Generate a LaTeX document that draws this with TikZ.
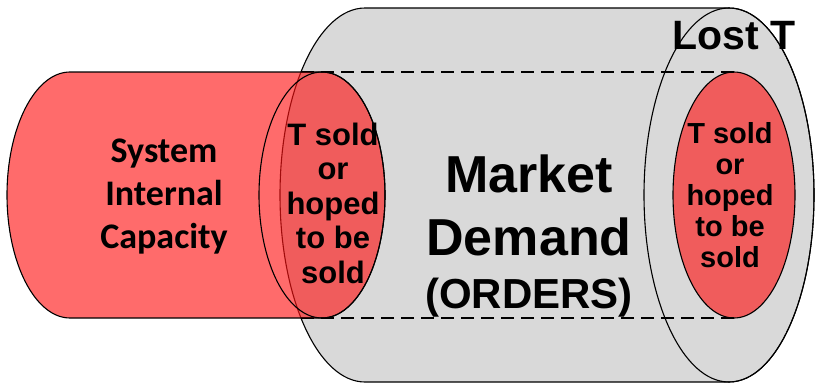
\documentclass[tikz,border=0pt]{standalone}
\usepackage{fontspec}
\setmainfont{Liberation Sans}
\newfontfamily\calibrifont{Carlito}
\definecolor{demandgray}{RGB}{217,217,217}
\definecolor{capred}{RGB}{255,20,20}
\tikzstyle{outline} = [draw=black, line width=1.1pt]
\tikzstyle{graypart} = [outline, fill=demandgray]
\tikzstyle{redpart} = [outline, fill=capred, fill opacity=0.63]
\tikzstyle{hidden} = [line width=1.1pt, dash pattern=on 13pt off 7pt]
\tikzstyle{label} = [inner sep=0pt, align=center, text=black, font=\bfseries]

\begin{document}
\begin{tikzpicture}[x=1pt, y=1pt]
\useasboundingbox (0,0) rectangle (816,384);

% Market demand cylinder
\draw [graypart] (365,376) -- (729,376) arc[start angle=90, end angle=-90, x radius=85, y radius=187]
  -- (365,2) arc[start angle=270, end angle=90, x radius=85, y radius=187] -- cycle;
\draw [outline] (729,189) ellipse[x radius=85, y radius=187];

% Sold part at the far end
\draw [redpart] (734,189) ellipse[x radius=61, y radius=123];
\draw [hidden] (301,312) -- (734,312);
\draw [hidden] (301,66) -- (734,66);

% System capacity cylinder
\draw [redpart] (70,312) -- (322,312) arc[start angle=90, end angle=-90, x radius=63, y radius=123]
  -- (70,66) arc[start angle=270, end angle=90, x radius=63, y radius=123] -- cycle;
\draw [outline] (322,189) ellipse[x radius=63, y radius=123];

% Labels (base is the last line)
\node (capacity) [label, anchor=base, font=\calibrifont\bfseries\fontsize{36}{43}\selectfont] at (164,136) {System\\Internal\\Capacity};
\node (soldleft) [label, anchor=base, font=\bfseries\fontsize{31}{34.5}\selectfont] at (333,101) {T sold\\or\\hoped\\to be\\sold};
\node (demand) [label, anchor=base, font=\bfseries\fontsize{52}{63}\selectfont] at (529,76) {Market\\Demand\\[-10pt]{\fontsize{42}{53}\selectfont (ORDERS)}};
\node (soldright) [label, anchor=base, font=\bfseries\fontsize{29}{31}\selectfont] at (730,117) {T sold\\or\\hoped\\to be\\sold};
\node (lost) [label, anchor=base, font=\bfseries\fontsize{41}{49}\selectfont] at (734,335) {Lost T};

\end{tikzpicture}
\end{document}
